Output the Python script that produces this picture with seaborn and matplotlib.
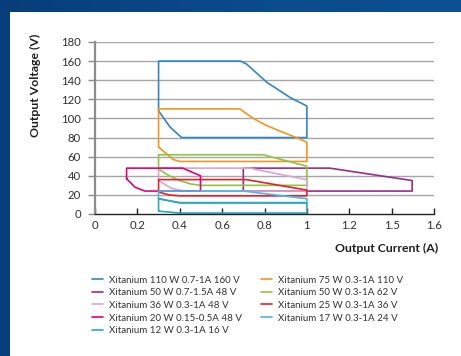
import numpy as np
import pandas as pd
import matplotlib
matplotlib.use("Agg")
import matplotlib.pyplot as plt
from matplotlib.colors import LinearSegmentedColormap
import seaborn as sns

# Operating windows of the Xitanium drivers: output current (A) vs output voltage (V)
series_names = [
    "Xitanium 110 W 0.7-1A 160 V",
    "Xitanium 75 W 0.3-1A 110 V",
    "Xitanium 50 W 0.7-1.5A 48 V",
    "Xitanium 50 W 0.3-1A 62 V",
    "Xitanium 36 W 0.3-1A 48 V",
    "Xitanium 25 W 0.3-1A 36 V",
    "Xitanium 20 W 0.15-0.5A 48 V",
    "Xitanium 17 W 0.3-1A 24 V",
    "Xitanium 12 W 0.3-1A 16 V",
]
series_colors = ["#2f87c8", "#f7941d", "#9c2a8c", "#8cc63f", "#dba3d3",
                 "#e8202a", "#e6007e", "#45b8ec", "#2aa9b8"]

i_110w = [0.30, 0.30, 0.687, 0.715, 0.81, 0.92, 1.00, 1.00, 0.409, 0.354, 0.30]
v_110w = [108, 160, 160, 157, 138, 122, 113, 80, 80, 91, 108]

i_75w = [0.30, 0.30, 0.684, 0.74, 0.81, 0.888, 0.967, 1.00, 1.00, 0.40, 0.37, 0.30]
v_75w = [70, 110, 110, 101, 92.5, 85.5, 78.5, 75, 55, 55, 57, 70]

i_50w_15 = [0.70, 0.70, 1.108, 1.497, 1.497, 0.70]
v_50w_15 = [24, 48, 48, 35, 24, 24]

i_50w_1 = [0.30, 0.30, 0.794, 1.00, 1.00, 0.50, 0.45, 0.40, 0.35, 0.30]
v_50w_1 = [47, 62, 62, 50, 30, 30, 31.5, 35, 40, 47]

i_36w = [0.30, 0.30, 0.73, 0.85, 1.00, 1.00, 0.42, 0.36, 0.30]
v_36w = [35, 48, 48, 42.5, 36, 24, 24, 27, 35]

i_25w = [0.30, 0.30, 0.715, 1.00, 1.00, 0.40, 0.35, 0.30]
v_25w = [23, 36, 36, 25, 19, 19, 20, 23]

i_20w = [0.149, 0.149, 0.414, 0.498, 0.498, 0.236, 0.189, 0.149]
v_20w = [37, 48, 48, 40, 24, 24, 28, 37]

i_17w = [0.30, 0.30, 0.70, 1.00, 1.00, 0.40, 0.30]
v_17w = [16, 24, 24, 16, 12, 12, 16]

i_12w = [0.30, 0.30, 0.40, 1.00, 1.00, 0.40, 0.30]
v_12w = [3, 16, 11.5, 11.5, 1, 1, 3]

currents = [i_110w, i_75w, i_50w_15, i_50w_1, i_36w, i_25w, i_20w, i_17w, i_12w]
voltages = [v_110w, v_75w, v_50w_15, v_50w_1, v_36w, v_25w, v_20w, v_17w, v_12w]

x_ticks = [0, 0.2, 0.4, 0.6, 0.8, 1.0, 1.2, 1.4, 1.6]
x_tick_labels = ["0", "0.2", "0.4", "0.6", "0.8", "1", "1.2", "1.5", "1.6"]
y_ticks = [0, 20, 40, 60, 80, 100, 120, 140, 160, 180]

frames = []
for name, cur, volt in zip(series_names, currents, voltages):
    frames.append(pd.DataFrame({"current": cur, "voltage": volt, "driver": name}))
df = pd.concat(frames, ignore_index=True)

sns.set_theme(style="white")
plt.rcParams["font.family"] = ["Lato", "DejaVu Sans"]

W, H = 461, 356
fig = plt.figure(figsize=(W / 100, H / 100), dpi=100)
fig.patch.set_facecolor("white")

# navy frame: gradient band on top, solid strip on the left
band = fig.add_axes([0, 1 - 12 / H, 1, 12 / H])
grad = np.linspace(0, 1, 256)[None, :]
cmap = LinearSegmentedColormap.from_list("band", ["#073d7a", "#0a4a8a", "#0b5192"])
band.imshow(grad, aspect="auto", cmap=cmap, extent=[0, 1, 0, 1])
band.axis("off")
strip = fig.add_axes([0, 0, 10 / W, 1 - 12 / H])
strip.set_facecolor("#063f7c")
strip.set_xticks([]); strip.set_yticks([])
for s in strip.spines.values():
    s.set_visible(False)

ax = fig.add_axes([95 / W, 1 - 214 / H, (434 - 95) / W, (214 - 42) / H])
ax.set_facecolor("white")

palette = dict(zip(series_names, series_colors))
sns.lineplot(data=df, x="current", y="voltage", hue="driver", hue_order=series_names,
             palette=palette, sort=False, estimator=None, units="driver",
             linewidth=1.2, ax=ax, legend=True)

ax.set_xlim(0, 1.6)
ax.set_ylim(0, 180)
ax.set_xticks(x_ticks)
ax.set_xticklabels(x_tick_labels)
ax.set_yticks(y_ticks)
for y in y_ticks[1:]:
    ax.axhline(y, color="#a6a6a6", linewidth=1.0, zorder=0)

for side in ["top", "right"]:
    ax.spines[side].set_visible(False)
ax.spines["left"].set_color("#8c8c8c")
ax.spines["left"].set_linewidth(1.6)
ax.spines["bottom"].set_color("#222222")
ax.spines["bottom"].set_linewidth(1.0)

ax.tick_params(axis="y", direction="out", length=5, width=1, color="#8c8c8c",
               labelsize=8.2, labelcolor="#2e2e2e", pad=5, left=True)
ax.tick_params(axis="x", direction="in", length=4, width=1, color="#222222",
               labelsize=8.2, labelcolor="#2e2e2e", pad=4, bottom=True)

ax.set_xlabel("")
ax.set_ylabel("")
ax.text(-0.177, 0.75, "Output Voltage (V)", transform=ax.transAxes, rotation=90,
        ha="center", va="center", fontsize=8.8, fontweight="bold", color="#1e1e1e")
ax.text(1.012, -0.198, "Output Current (A)", transform=ax.transAxes,
        ha="right", va="center", fontsize=8.8, fontweight="bold", color="#1e1e1e")

handles, labels = ax.get_legend_handles_labels()
lookup = dict(zip(labels, handles))
col_order = [0, 2, 4, 6, 8, 1, 3, 5, 7]
ordered = [series_names[k] for k in col_order]
ax.legend([lookup[n] for n in ordered], ordered, ncol=2, frameon=False,
          loc="upper left", bbox_to_anchor=(-0.02, -0.335), fontsize=7.0,
          handlelength=1.1, handletextpad=0.6, columnspacing=2.0,
          labelspacing=0.38, borderaxespad=0, labelcolor="#333333")

fig.savefig("out.png", dpi=100)
